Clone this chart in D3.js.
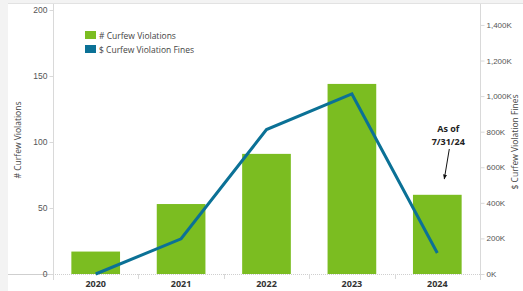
<!DOCTYPE html>
<html>
<head>
<meta charset="utf-8">
<script src="https://cdn.jsdelivr.net/npm/d3@7"></script>
<style>
  body { margin: 0; background: #f3f3f3; }
  svg { display: block; font-family: "Open Sans", "Noto Sans", sans-serif; }
</style>
</head>
<body>
<svg id="chart" width="523" height="291"></svg>
<script>
// chart values
var years = ["2020", "2021", "2022", "2023", "2024"];
var violations = [17, 53, 91, 144, 60];
var fines = [0, 198000, 812000, 1012000, 118000];
var leftTicks = [0, 50, 100, 150, 200];
var rightTicks = [0, 200000, 400000, 600000, 800000, 1000000, 1200000, 1400000];
var legendLabels = ["# Curfew Violations", "$ Curfew Violation Fines"];

var green = "#7bbd21", blue = "#0b7196";

// plot box (avoid window.top clash)
var plotL = 53, plotR = 480, plotT = 10, plotB = 274;

var svg = d3.select("#chart");

// white panel with light grey frame
svg.append("rect").attr("x", 8).attr("y", 4).attr("width", 515).attr("height", 287).attr("fill", "#fff");
svg.append("line").attr("x1", 8).attr("x2", 523).attr("y1", 3.5).attr("y2", 3.5).attr("stroke", "#e2e2e2");

var x = d3.scaleBand().domain(years).range([plotL, plotR]).paddingInner(0.43).paddingOuter(0.215);
var y = d3.scaleLinear().domain([0, 200]).range([plotB, plotT]);
var y2 = d3.scaleLinear().domain([0, 1484000]).range([plotB, plotT]);

// axis frame lines
svg.append("line").attr("x1", plotL + 0.5).attr("x2", plotL + 0.5).attr("y1", 4).attr("y2", 280).attr("stroke", "#d9d9d9");
svg.append("line").attr("x1", plotR + 0.5).attr("x2", plotR + 0.5).attr("y1", 4).attr("y2", 280).attr("stroke", "#d9d9d9");
svg.append("line").attr("x1", 8).attr("x2", plotL).attr("y1", plotB + 0.5).attr("y2", plotB + 0.5).attr("stroke", "#cfcfcf");
svg.append("line").attr("x1", plotL).attr("x2", plotR).attr("y1", plotB + 0.5).attr("y2", plotB + 0.5)
  .attr("stroke", "#cfcfcf").attr("stroke-dasharray", "1,1");

// left axis
var gl = svg.append("g").attr("transform", "translate(" + (plotL + 0.5) + ",0)")
  .call(d3.axisLeft(y).tickValues(leftTicks).tickSize(4).tickPadding(2));
gl.select(".domain").remove();
gl.selectAll(".tick line").attr("stroke", "#d9d9d9");
gl.selectAll(".tick text").attr("fill", "#555").style("font-size", "8.5px");

// right axis
var gr = svg.append("g").attr("transform", "translate(" + (plotR + 0.5) + ",0)")
  .call(d3.axisRight(y2).tickValues(rightTicks).tickSize(4).tickPadding(2)
    .tickFormat(function(d) { return d3.format(",")(d / 1000) + "K"; }));
gr.select(".domain").remove();
gr.selectAll(".tick line").attr("stroke", "#d9d9d9");
gr.selectAll(".tick text").attr("fill", "#555").style("font-size", "8px");

// category axis
var boundaries = years.map(function(d) { return x(d) + x.bandwidth() / 2 + x.step() / 2; });
svg.append("g").selectAll("line").data(boundaries).enter().append("line")
  .attr("x1", function(d) { return Math.round(d) + 0.5; })
  .attr("x2", function(d) { return Math.round(d) + 0.5; })
  .attr("y1", plotB).attr("y2", plotB + 5).attr("stroke", "#d9d9d9");
svg.append("g").selectAll("text").data(years).enter().append("text")
  .attr("x", function(d) { return x(d) + x.bandwidth() / 2; })
  .attr("y", 287)
  .attr("text-anchor", "middle")
  .attr("fill", "#333").style("font-size", "9px").style("font-weight", "bold")
  .text(function(d) { return d; });

// axis titles
svg.append("text").attr("transform", "translate(21,140) rotate(-90)")
  .attr("text-anchor", "middle").attr("fill", "#444").style("font-size", "8.5px")
  .text("# Curfew Violations");
svg.append("text").attr("transform", "translate(518,142) rotate(-90)")
  .attr("text-anchor", "middle").attr("fill", "#444").style("font-size", "8.5px")
  .text("$ Curfew Violation Fines");

// bars
svg.append("g").selectAll("rect").data(years).enter().append("rect")
  .attr("x", function(d) { return x(d); })
  .attr("width", x.bandwidth())
  .attr("y", function(d, i) { return y(violations[i]); })
  .attr("height", function(d, i) { return y(0) - y(violations[i]); })
  .attr("fill", green);

// fines line
var line = d3.line()
  .x(function(d, i) { return x(years[i]) + x.bandwidth() / 2; })
  .y(function(d) { return y2(d); });
svg.append("path").datum(fines).attr("d", line)
  .attr("fill", "none").attr("stroke", blue).attr("stroke-width", 3);

// legend
var legend = svg.append("g").attr("transform", "translate(85,32)");
legendLabels.forEach(function(t, i) {
  var g = legend.append("g").attr("transform", "translate(0," + i * 14 + ")");
  g.append("rect").attr("width", 11).attr("height", 8).attr("y", -1).attr("fill", i === 0 ? green : blue);
  g.append("text").attr("x", 14).attr("y", 7).attr("fill", "#444").style("font-size", "8.5px").text(t);
});

// annotation
var ax = x("2024") + x.bandwidth() / 2 + 11;
svg.append("defs").append("marker").attr("id", "arr").attr("viewBox", "0 0 10 10")
  .attr("refX", 9).attr("refY", 5).attr("markerWidth", 5).attr("markerHeight", 5).attr("orient", "auto")
  .append("path").attr("d", "M0,1L10,5L0,9z").attr("fill", "#111");
svg.append("text").attr("x", ax).attr("y", 132).attr("text-anchor", "middle")
  .attr("fill", "#222").style("font-size", "9px").style("font-weight", "bold").text("As of");
svg.append("text").attr("x", ax).attr("y", 145).attr("text-anchor", "middle")
  .attr("fill", "#222").style("font-size", "9px").style("font-weight", "bold").text("7/31/24");
svg.append("line").attr("x1", ax + 1).attr("y1", 149).attr("x2", ax - 4).attr("y2", 179)
  .attr("stroke", "#111").attr("stroke-width", 1).attr("marker-end", "url(#arr)");
</script>
</body>
</html>
